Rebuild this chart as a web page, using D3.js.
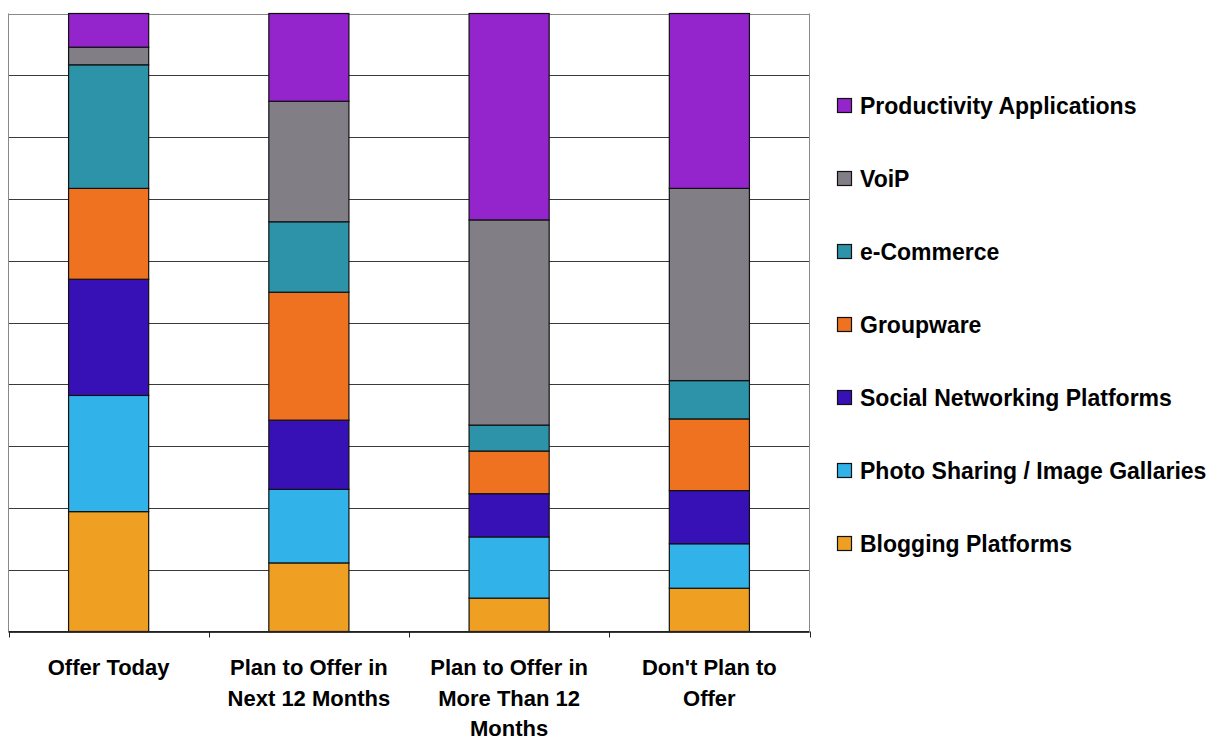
<!DOCTYPE html>
<html>
<head>
<meta charset="utf-8">
<script src="https://cdn.jsdelivr.net/npm/d3@7"></script>
<style>
  html, body { margin: 0; padding: 0; background: #fff; }
  svg { display: block; font-family: "Liberation Sans", Arial, sans-serif; }
</style>
</head>
<body>
<svg id="chart" width="1222" height="742"></svg>
<script>
// Categories along the x axis (multi-line labels)
const categories = ["Offer Today", "Plan to Offer in Next 12 Months", "Plan to Offer in More Than 12 Months", "Don't Plan to Offer"];
const categoryLines = [
  ["Offer Today"],
  ["Plan to Offer in", "Next 12 Months"],
  ["Plan to Offer in", "More Than 12", "Months"],
  ["Don't Plan to", "Offer"]
];

// Series, stacked from bottom to top (percent of respondents)
const seriesNames = ["Blogging Platforms", "Photo Sharing / Image Gallaries", "Social Networking Platforms", "Groupware", "e-Commerce", "VoiP", "Productivity Applications"];
const blogging     = [19.4, 11.1,  5.4,  7.0];
const photoSharing = [18.8, 11.9,  9.9,  7.2];
const socialNet    = [18.8, 11.2,  7.0,  8.6];
const groupware    = [14.7, 20.7,  6.9, 11.6];
const eCommerce    = [20.0, 11.4,  4.2,  6.2];
const voip         = [ 2.85, 19.5, 33.2, 31.1];
const productivity = [ 5.45, 14.2, 33.4, 28.3];
const yTicks = [0, 10, 20, 30, 40, 50, 60, 70, 80, 90, 100];

const seriesValues = [blogging, photoSharing, socialNet, groupware, eCommerce, voip, productivity];
const colors = ["#EFA023", "#31B2E8", "#3711B6", "#EE7220", "#2C93A8", "#817E86", "#9424CB"];

// Table built from the arrays above for d3.stack
const table = categories.map((c, i) => {
  const row = { category: c };
  seriesNames.forEach((s, j) => { row[s] = seriesValues[j][i]; });
  return row;
});

const svg = d3.select("#chart");
const plot = { left: 8.5, right: 809.5, top: 13.5, bottom: 631.5 };

const x = d3.scaleBand()
  .domain(categories)
  .range([plot.left, plot.right])
  .paddingInner(0.6)
  .paddingOuter(0.3);

const y = d3.scaleLinear()
  .domain([0, 100])
  .range([plot.bottom, plot.top]);

// Horizontal gridlines
svg.append("g")
  .selectAll("line")
  .data(yTicks)
  .join("line")
  .attr("x1", plot.left)
  .attr("x2", plot.right)
  .attr("y1", d => Math.round(y(d)) + 0.5)
  .attr("y2", d => Math.round(y(d)) + 0.5)
  .attr("stroke", d => d === 100 ? "#8a8a8a" : "#3a3a3a")
  .attr("stroke-width", 1);

// Left and right frame lines
svg.append("line")
  .attr("x1", plot.left).attr("x2", plot.left)
  .attr("y1", plot.top).attr("y2", plot.bottom)
  .attr("stroke", "#8a8a8a");
svg.append("line")
  .attr("x1", plot.right).attr("x2", plot.right)
  .attr("y1", plot.top).attr("y2", plot.bottom)
  .attr("stroke", "#8a8a8a");

// Stacked bars
const stack = d3.stack().keys(seriesNames);
const layers = stack(table);

svg.append("g")
  .selectAll("g")
  .data(layers)
  .join("g")
  .attr("fill", (d, i) => colors[i])
  .selectAll("rect")
  .data(d => d)
  .join("rect")
  .attr("x", d => x(d.data.category))
  .attr("width", x.bandwidth())
  .attr("y", d => y(d[1]))
  .attr("height", d => y(d[0]) - y(d[1]))
  .attr("stroke", "#111")
  .attr("stroke-width", 1.2);

// Bottom axis with ticks between categories
const tickXs = d3.range(categories.length + 1).map(i => plot.left + i * (plot.right - plot.left) / categories.length);
svg.append("line")
  .attr("x1", plot.left).attr("x2", plot.right)
  .attr("y1", plot.bottom).attr("y2", plot.bottom)
  .attr("stroke", "#222");
svg.append("g")
  .selectAll("line")
  .data(tickXs)
  .join("line")
  .attr("x1", d => Math.round(d) + 0.5)
  .attr("x2", d => Math.round(d) + 0.5)
  .attr("y1", plot.bottom)
  .attr("y2", plot.bottom + 6)
  .attr("stroke", "#222");

// Category labels
const labels = svg.append("g")
  .selectAll("text")
  .data(categories)
  .join("text")
  .attr("x", d => x(d) + x.bandwidth() / 2)
  .attr("y", 675)
  .attr("text-anchor", "middle")
  .attr("font-size", 22)
  .attr("font-weight", "bold")
  .attr("fill", "#000");
labels.selectAll("tspan")
  .data((d, i) => categoryLines[i])
  .join("tspan")
  .attr("x", function () { return d3.select(this.parentNode).attr("x"); })
  .attr("dy", (d, i) => i === 0 ? 0 : 30.5)
  .text(d => d);

// Legend (top entry is the top of the stack)
const legendOrder = seriesNames.map((s, i) => ({ name: s, color: colors[i] })).reverse();
const legend = svg.append("g")
  .selectAll("g")
  .data(legendOrder)
  .join("g")
  .attr("transform", (d, i) => `translate(837, ${106 + i * 73})`);
legend.append("rect")
  .attr("x", 0.5)
  .attr("y", -7.5)
  .attr("width", 14)
  .attr("height", 14)
  .attr("fill", d => d.color)
  .attr("stroke", "#111")
  .attr("stroke-width", 1.2);
legend.append("text")
  .attr("x", 23)
  .attr("y", 8)
  .attr("font-size", 23)
  .attr("font-weight", "bold")
  .attr("fill", "#000")
  .text(d => d.name);
</script>
</body>
</html>
